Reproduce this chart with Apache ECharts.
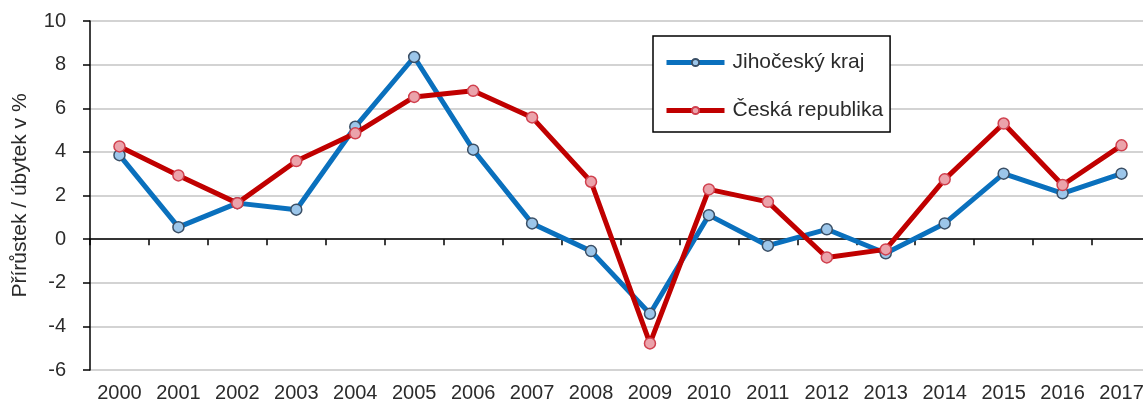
<!DOCTYPE html>
<html>
<head>
<meta charset="utf-8">
<script src="https://cdn.jsdelivr.net/npm/echarts@6/dist/echarts.min.js"></script>
<style>
html,body{margin:0;padding:0;background:#fff;}
#chart{width:1143px;height:403px;}
</style>
</head>
<body>
<div id="chart"></div>
<script>
const categories = ['2000','2001','2002','2003','2004','2005','2006','2007','2008','2009','2010','2011','2012','2013','2014','2015','2016','2017'];
const jihocesky = [3.85, 0.55, 1.65, 1.35, 5.15, 8.35, 4.1, 0.72, -0.55, -3.42, 1.1, -0.3, 0.45, -0.65, 0.72, 3.0, 2.1, 3.0];
const ceskaRepublika = [4.25, 2.92, 1.65, 3.58, 4.85, 6.52, 6.8, 5.58, 2.63, -4.78, 2.28, 1.71, -0.84, -0.47, 2.74, 5.3, 2.48, 4.3];
const yTicks = { min: -6, max: 10, interval: 2 };
const seriesNames = ['Jihočeský kraj', 'Česká republika'];
const yTitle = 'Přírůstek / úbytek v %';

const FONT = "'Liberation Sans', Arial, sans-serif";
const chart = echarts.init(document.getElementById('chart'), null, {renderer: 'canvas'});
chart.setOption({
  animation: false,
  backgroundColor: '#ffffff',
  grid: { left: 90, right: -8, top: 21, bottom: 33, containLabel: false, outerBoundsMode: 'none' },
  legend: {
    orient: 'vertical',
    left: 653, top: 36,
    padding: [16, 7, 11, 11],
    itemGap: 27,
    itemWidth: 58, itemHeight: 9,
    backgroundColor: '#ffffff',
    borderColor: '#000000', borderWidth: 1.5, borderRadius: 0,
    lineStyle: { width: 5 },
    textStyle: { fontFamily: FONT, fontSize: 21, color: '#2b2b2b', padding: [0,0,0,3] },
    data: seriesNames
  },
  xAxis: [
    {
      type: 'category', data: categories, boundaryGap: true,
      axisLine: { show: true, onZero: true, lineStyle: { color: '#000', width: 1.5 } },
      axisTick: { show: true, length: 6, inside: false, lineStyle: { color: '#000', width: 1.5 } },
      axisLabel: { show: false },
      splitLine: { show: false }
    },
    {
      type: 'category', data: categories, boundaryGap: true, position: 'bottom',
      axisLine: { show: false, onZero: false },
      axisTick: { show: false },
      axisLabel: { show: true, margin: 13, fontFamily: FONT, fontSize: 20, color: '#2b2b2b', interval: 0 },
      splitLine: { show: false }
    }
  ],
  yAxis: {
    type: 'value', min: yTicks.min, max: yTicks.max, interval: yTicks.interval,
    name: yTitle, nameLocation: 'middle', nameRotate: 90, nameGap: 59,
    nameTextStyle: { fontFamily: FONT, fontSize: 21, color: '#2b2b2b' },
    axisLine: { show: true, lineStyle: { color: '#000', width: 1.5 } },
    axisTick: { show: true, length: 7, lineStyle: { color: '#000', width: 1.5 } },
    axisLabel: { margin: 24, fontFamily: FONT, fontSize: 20, color: '#2b2b2b' },
    splitLine: { show: true, lineStyle: { color: '#c4c4c4', width: 1.5 } }
  },
  series: [
    {
      name: seriesNames[0], type: 'line', data: jihocesky, xAxisIndex: 0,
      symbol: 'circle', symbolSize: 11, showAllSymbol: true,
      lineStyle: { color: '#0a70bd', width: 5 },
      itemStyle: { color: '#9cc6ea', borderColor: '#3a4f66', borderWidth: 1.5 },
      emphasis: { disabled: true }, z: 2
    },
    {
      name: seriesNames[1], type: 'line', data: ceskaRepublika, xAxisIndex: 0,
      symbol: 'circle', symbolSize: 11, showAllSymbol: true,
      lineStyle: { color: '#c00000', width: 5 },
      itemStyle: { color: '#eba3ab', borderColor: '#d0404e', borderWidth: 1.5 },
      emphasis: { disabled: true }, z: 3
    }
  ]
});
</script>
</body>
</html>
